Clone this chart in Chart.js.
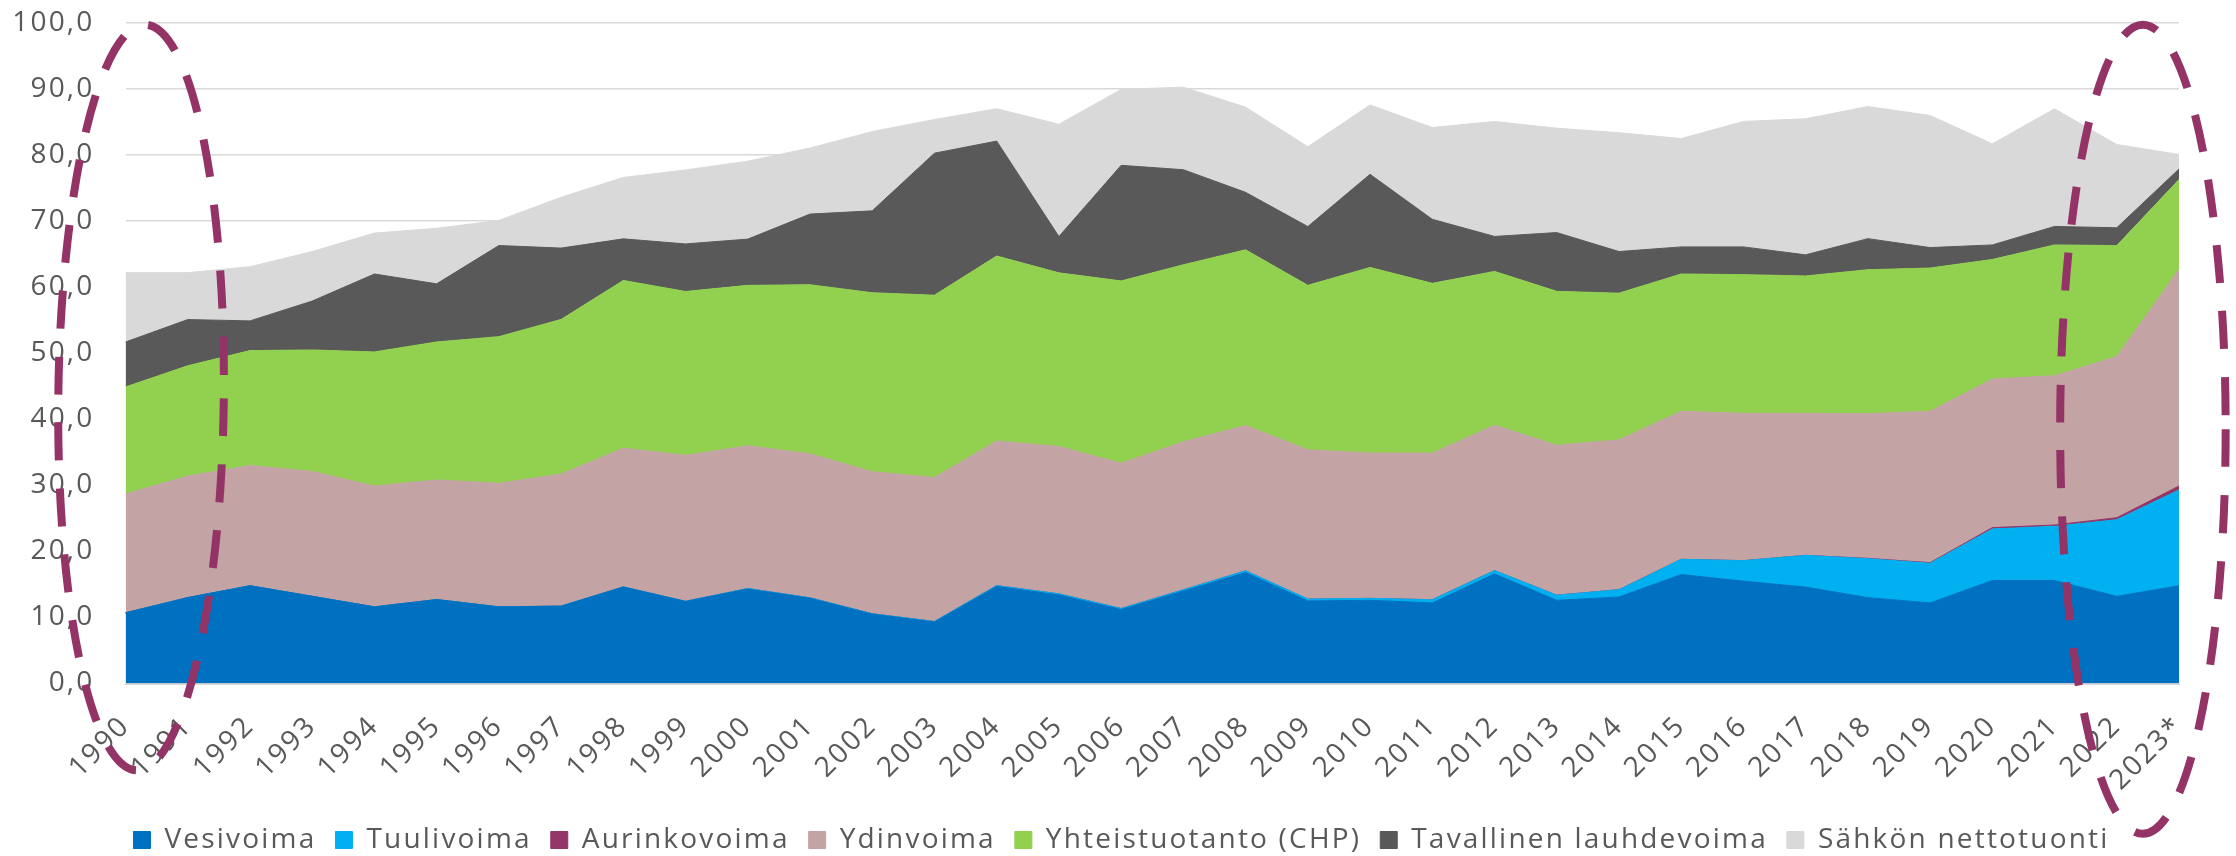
<!DOCTYPE html>
<html>
<head>
<meta charset="utf-8">
<script src="https://cdn.jsdelivr.net/npm/chart.js@4.4.0/dist/chart.umd.min.js"></script>
<style>
html, body { margin: 0; padding: 0; background: #ffffff; }
#wrap { width: 2236px; height: 856px; position: relative; }
</style>
</head>
<body>
<div id="wrap"><canvas id="c" width="2236" height="856"></canvas></div>
<script>
// ---- Data (TWh) ----
const years = ['1990','1991','1992','1993','1994','1995','1996','1997','1998','1999',
  '2000','2001','2002','2003','2004','2005','2006','2007','2008','2009',
  '2010','2011','2012','2013','2014','2015','2016','2017','2018','2019',
  '2020','2021','2022','2023*'];

const vesivoima = [10.7, 13.0, 14.8, 13.2, 11.6, 12.7, 11.6, 11.7, 14.6, 12.4,
  14.3, 12.9, 10.5, 9.3, 14.7, 13.4, 11.2, 14.0, 16.8, 12.5,
  12.6, 12.2, 16.6, 12.6, 13.1, 16.5, 15.5, 14.6, 13.0, 12.2,
  15.6, 15.6, 13.2, 14.8];

const tuulivoima = [0.0, 0.0, 0.0, 0.0, 0.0, 0.01, 0.01, 0.02, 0.02, 0.05,
  0.08, 0.07, 0.06, 0.09, 0.12, 0.17, 0.15, 0.19, 0.26, 0.28,
  0.29, 0.48, 0.49, 0.77, 1.1, 2.3, 3.1, 4.8, 5.9, 6.0,
  7.8, 8.2, 11.6, 14.5];

const aurinkovoima = [0, 0, 0, 0, 0, 0, 0, 0, 0, 0,
  0, 0, 0, 0, 0, 0, 0, 0, 0, 0,
  0, 0, 0, 0, 0, 0, 0, 0, 0.05, 0.1,
  0.2, 0.2, 0.3, 0.6];

const ydinvoima = [18.0, 18.4, 18.2, 18.9, 18.3, 18.1, 18.7, 20.0, 21.0, 22.1,
  21.6, 21.8, 21.5, 21.8, 21.9, 22.3, 22.0, 22.4, 22.0, 22.6,
  22.0, 22.2, 22.0, 22.7, 22.7, 22.4, 22.3, 21.5, 21.9, 22.9,
  22.5, 22.6, 24.4, 32.8];

const yhteistuotanto = [16.2, 16.7, 17.4, 18.4, 20.3, 20.9, 22.2, 23.4, 25.4, 24.8,
  24.3, 25.6, 27.1, 27.6, 28.0, 26.3, 27.6, 26.8, 26.6, 24.9,
  28.1, 25.7, 23.3, 23.3, 22.2, 20.8, 21.0, 20.8, 21.8, 21.7,
  18.1, 19.8, 16.8, 13.6];

const lauhdevoima = [6.8, 7.0, 4.5, 7.4, 11.8, 8.8, 13.8, 10.8, 6.3, 7.2,
  7.0, 10.7, 12.4, 21.5, 17.4, 5.5, 17.5, 14.4, 8.7, 8.9,
  14.1, 9.7, 5.3, 8.9, 6.3, 4.1, 4.2, 3.2, 4.7, 3.1,
  2.2, 2.8, 2.7, 1.6];

const nettotuonti = [10.5, 7.1, 8.2, 7.5, 6.2, 8.4, 3.8, 7.7, 9.3, 11.2,
  11.8, 10.0, 12.0, 5.1, 4.9, 17.0, 11.5, 12.5, 12.9, 12.1,
  10.5, 13.9, 17.4, 15.8, 18.0, 16.4, 19.0, 20.6, 20.0, 20.0,
  15.3, 17.8, 12.6, 2.2];

const seriesNames = ['Vesivoima', 'Tuulivoima', 'Aurinkovoima', 'Ydinvoima',
  'Yhteistuotanto (CHP)', 'Tavallinen lauhdevoima', 'Sähkön nettotuonti'];

const yTickLabels = ['0,0','10,0','20,0','30,0','40,0','50,0','60,0','70,0','80,0','90,0','100,0'];

// ---- Styles ----
const seriesColors = ['#0070C0', '#00B0F0', '#943567', '#C3A3A4', '#92D050', '#595959', '#D9D9D9'];
const seriesData = [vesivoima, tuulivoima, aurinkovoima, ydinvoima, yhteistuotanto, lauhdevoima, nettotuonti];

// Highlight ellipses (annotation), in category-index / value units
const highlights = [
  { cx: 0.25, cy: 43.3, rx: 1.33, ry: 56.45, rot: 0.011 },
  { cx: 32.42, cy: 38.5, rx: 1.33, ry: 61.25, rot: 0 }
];

const LETTER_SPACING = '2.2px';
const LEGEND_SHIFT = 32;

const textSpacing = {
  id: 'textSpacing',
  beforeLayout(chart) { chart.ctx.letterSpacing = LETTER_SPACING; },
  afterLayout(chart) {
    if (chart.legend) {
      chart.legend.left += LEGEND_SHIFT;
      chart.legend.right += LEGEND_SHIFT;
    }
  },
  beforeDraw(chart) { chart.ctx.letterSpacing = LETTER_SPACING; }
};

const ellipsePlugin = {
  id: 'ellipses',
  afterDraw(chart) {
    const ctx = chart.ctx;
    const xs = chart.scales.x, ys = chart.scales.y;
    const step = xs.getPixelForValue(1) - xs.getPixelForValue(0);
    const unit = ys.getPixelForValue(0) - ys.getPixelForValue(1);
    ctx.save();
    ctx.strokeStyle = '#943466';
    ctx.lineWidth = 8;
    ctx.setLineDash([38, 28]);
    ctx.lineCap = 'butt';
    highlights.forEach(h => {
      ctx.beginPath();
      ctx.ellipse(xs.getPixelForValue(h.cx), ys.getPixelForValue(h.cy),
        h.rx * step, h.ry * unit, h.rot, 0, Math.PI * 2);
      ctx.stroke();
    });
    ctx.restore();
  }
};

Chart.defaults.font.family = "'Open Sans', 'Noto Sans', sans-serif";
Chart.defaults.font.size = 28;
Chart.defaults.color = '#595959';

const datasets = seriesNames.map((name, i) => ({
  label: name,
  data: seriesData[i],
  backgroundColor: seriesColors[i],
  borderColor: seriesColors[i],
  borderWidth: 1,
  pointRadius: 0,
  pointHoverRadius: 0,
  tension: 0,
  fill: i === 0 ? 'origin' : '-1'
}));

new Chart(document.getElementById('c'), {
  type: 'line',
  data: { labels: years, datasets },
  plugins: [textSpacing, ellipsePlugin],
  options: {
    responsive: false,
    animation: false,
    devicePixelRatio: 1,
    layout: { padding: { left: 0, right: 57, top: 23, bottom: -8 } },
    plugins: {
      legend: {
        position: 'bottom',
        labels: {
          boxWidth: 17,
          boxHeight: 17,
          padding: 19,
          color: '#595959',
          font: { size: 28 }
        }
      },
      tooltip: { enabled: false }
    },
    scales: {
      x: {
        grid: { display: false, drawTicks: false },
        border: { display: true, color: '#D9D9D9', width: 2 },
        ticks: {
          autoSkip: false,
          maxRotation: 45,
          minRotation: 45,
          padding: 26,
          color: '#595959',
          font: { size: 28 }
        },
        afterFit(scale) { scale.height = 123.5; }
      },
      y: {
        stacked: true,
        min: 0,
        max: 100,
        grid: { color: '#D9D9D9', lineWidth: 1.5, drawTicks: false },
        border: { display: false },
        ticks: {
          stepSize: 10,
          padding: 31,
          color: '#595959',
          font: { size: 28 },
          callback: (v, i) => yTickLabels[i]
        },
        afterFit(scale) {
          scale.width = 125.5;
          scale.paddingTop = 0;
          scale.paddingBottom = 0;
        }
      }
    }
  }
});
</script>
</body>
</html>
